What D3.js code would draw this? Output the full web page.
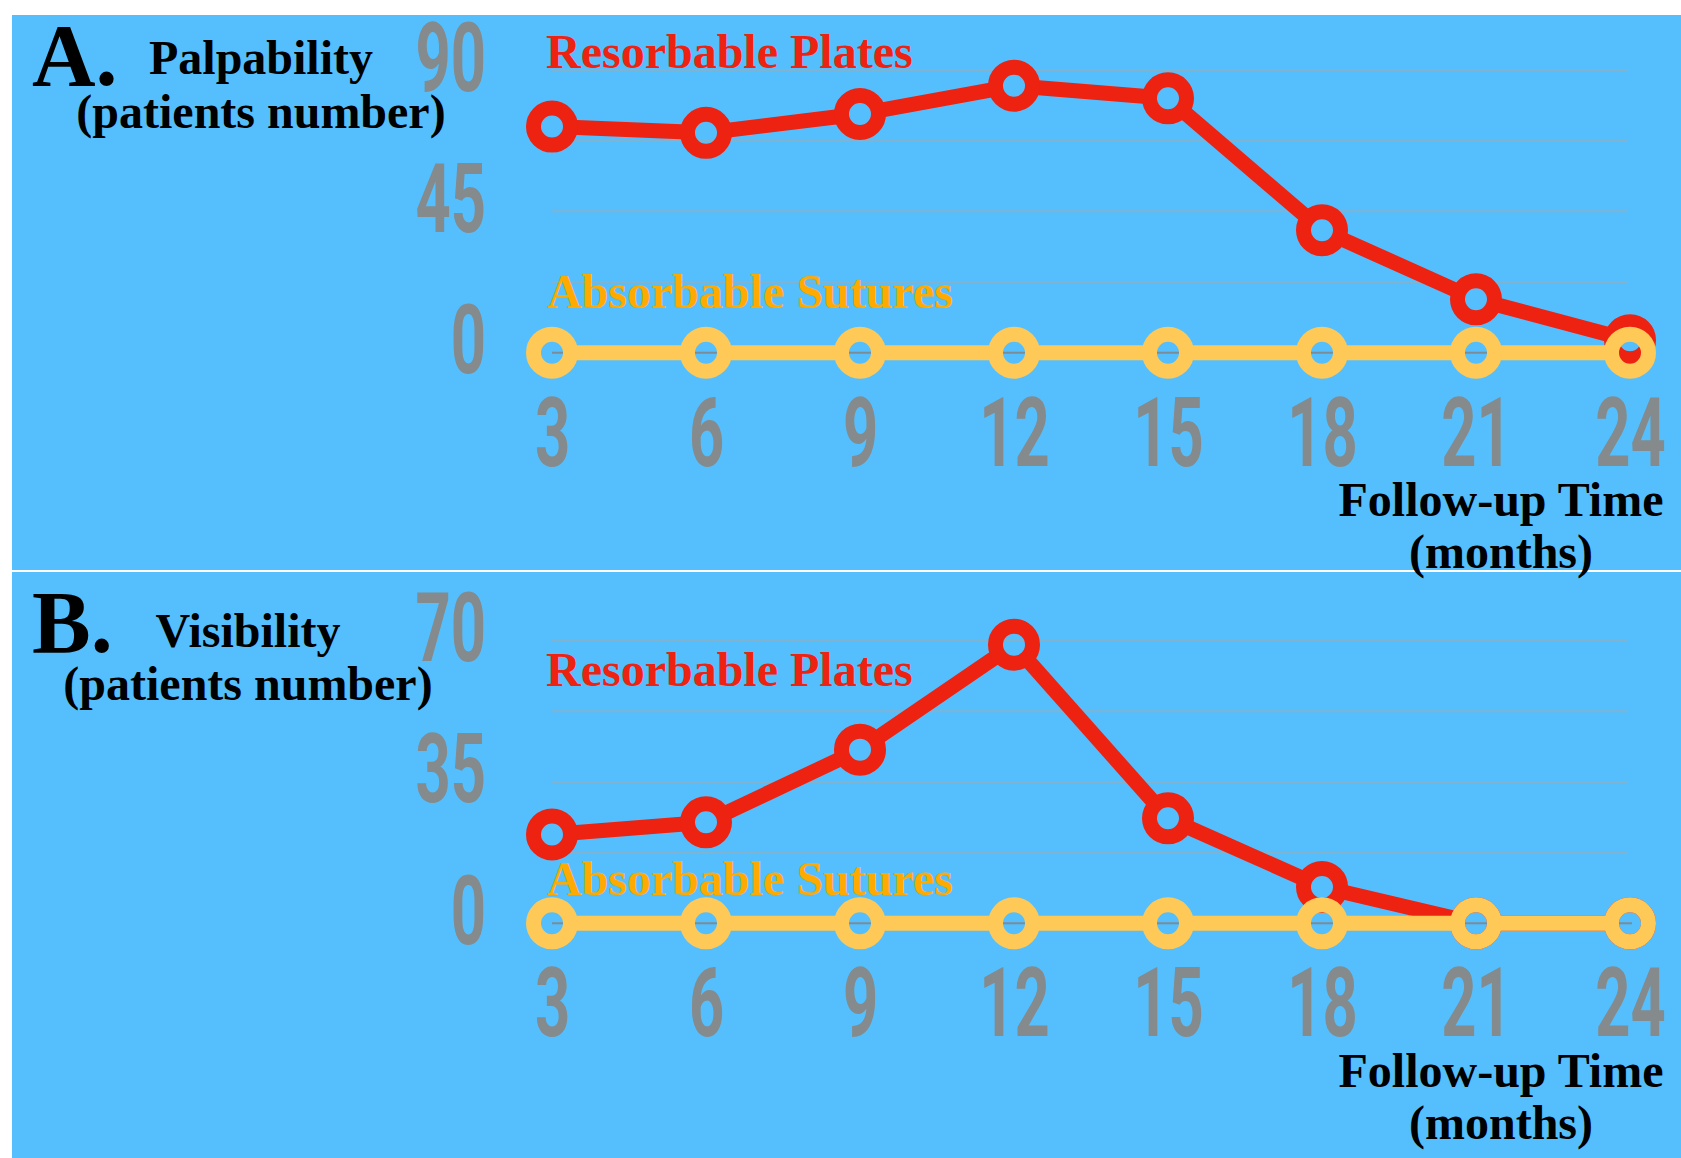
<!DOCTYPE html>
<html>
<head>
<meta charset="utf-8">
<script src="https://cdn.jsdelivr.net/npm/d3@7/dist/d3.min.js"></script>
<style>
  html, body { margin: 0; padding: 0; background: #ffffff; }
  svg { display: block; }
</style>
</head>
<body>
<svg id="chart" width="1681" height="1158"></svg>
<script>
// ---------------- data ----------------
const months = [3, 6, 9, 12, 15, 18, 21, 24];
const palpabilityPlates  = [72, 70, 76, 85, 81, 39, 17, 4];
const palpabilitySutures = [0, 0, 0, 0, 0, 0, 0, 0];
const visibilityPlates   = [22, 25, 43, 69, 26, 9, 0, 0];
const visibilitySutures  = [0, 0, 0, 0, 0, 0, 0, 0];
const palpabilityTicks = [0, 45, 90];
const visibilityTicks  = [0, 35, 70];
const palpabilityGrid  = [22.5, 45, 67.5, 90];
const visibilityGrid   = [17.5, 35, 52.5, 70];
const seriesNames = ["Resorbable Plates", "Absorbable Sutures"];
const panelLetters = ["A.", "B."];
const panelTitles = ["Palpability", "Visibility"];
const yTitle = "(patients number)";
const xTitle = ["Follow-up Time", "(months)"];

// ---------------- style ----------------
const BG = "#55bffd";
const RED = "#ee2211";
const YELLOW = "#fec957";
const ORANGE = "#ffaa00";
const GRAY = "#858a8c";
const GRID = "#7fb3d2";
const ZERO = "#7c8c96";
const SERIF = "'Liberation Serif', 'Times New Roman', serif";
const COND = "Roboto, 'DejaVu Sans', sans-serif";

const svg = d3.select("#chart");
const W = 1681, H = 1158;

// backgrounds
svg.append("rect").attr("x", 12).attr("y", 15).attr("width", W - 12).attr("height", H - 15).attr("fill", BG);
svg.append("rect").attr("x", 12).attr("y", 570).attr("width", W - 12).attr("height", 2).attr("fill", "#ffffff");

const x = d3.scaleLinear().domain([3, 24]).range([552, 1630]);

const panels = [
  { top: 0, max: 90, ticks: palpabilityTicks, grid: palpabilityGrid, plates: palpabilityPlates, sutures: palpabilitySutures,
    letter: panelLetters[0], title: panelTitles[0], titleX: 261,
    letterY: 85, titleY: 74, subY: 128, redLabelY: 68, yellowLabelY: 308 },
  { top: 570.6, max: 70, ticks: visibilityTicks, grid: visibilityGrid, plates: visibilityPlates, sutures: visibilitySutures,
    letter: panelLetters[1], title: panelTitles[1], titleX: 248,
    letterY: 652, titleY: 647, subY: 700, redLabelY: 686, yellowLabelY: 895 }
];

const R = 18.5, RING = 15, LW = 15;

function drawSeries(g, y, values, color) {
  const pts = months.map((m, i) => [x(m), y(values[i])]);
  const segs = [];
  for (let i = 0; i < pts.length - 1; i++) {
    const [x0, y0] = pts[i], [x1, y1] = pts[i + 1];
    const dx = x1 - x0, dy = y1 - y0, L = Math.hypot(dx, dy);
    const ux = dx / L, uy = dy / L;
    segs.push([[x0 + ux * R, y0 + uy * R], [x1 - ux * R, y1 - uy * R]]);
  }
  g.append("g").selectAll("line").data(segs).join("line")
    .attr("x1", d => d[0][0]).attr("y1", d => d[0][1])
    .attr("x2", d => d[1][0]).attr("y2", d => d[1][1])
    .attr("stroke", color).attr("stroke-width", LW);
  g.append("g").selectAll("circle").data(pts).join("circle")
    .attr("cx", d => d[0]).attr("cy", d => d[1]).attr("r", R)
    .attr("fill", "none").attr("stroke", color).attr("stroke-width", RING);
}

panels.forEach(p => {
  const g = svg.append("g");
  const y = d3.scaleLinear().domain([0, p.max]).range([352.7 + p.top, 70 + p.top]);

  // gridlines
  g.append("g").selectAll("line").data(p.grid).join("line")
    .attr("x1", x(3)).attr("x2", x(24) - 2)
    .attr("y1", d => y(d)).attr("y2", d => y(d))
    .attr("stroke", GRID).attr("stroke-width", 2);
  g.append("line").attr("x1", x(3)).attr("x2", x(24) + 2)
    .attr("y1", y(0)).attr("y2", y(0)).attr("stroke", ZERO).attr("stroke-width", 2);

  // y axis
  const ya = g.append("g").attr("transform", "translate(486,0)")
    .call(d3.axisLeft(y).tickValues(p.ticks).tickSize(0).tickFormat(d3.format("d")));
  ya.select(".domain").remove();
  ya.selectAll("text")
    .attr("x", 0).attr("dy", null).attr("y", 20)
    .attr("transform", "scale(0.64,1)")
    .attr("text-anchor", "end")
    .attr("fill", GRAY).attr("font-family", COND).attr("font-weight", 700).attr("font-size", 96);

  // x axis
  const xa = g.append("g").attr("transform", `translate(0,${y(0)})`)
    .call(d3.axisBottom(x).tickValues(months).tickSize(0).tickFormat(d3.format("d")));
  xa.select(".domain").remove();
  xa.selectAll("text")
    .attr("y", 113).attr("dy", null)
    .attr("transform", "scale(0.64,1)")
    .attr("text-anchor", "middle")
    .attr("fill", GRAY).attr("font-family", COND).attr("font-weight", 700).attr("font-size", 96);

  // series
  drawSeries(g, y, p.plates, RED);
  drawSeries(g, y, p.sutures, YELLOW);

  // series labels
  g.append("text").attr("x", 546).attr("y", p.redLabelY).text(seriesNames[0])
    .attr("fill", RED).attr("font-family", SERIF).attr("font-weight", 700).attr("font-size", 48);
  g.append("text").attr("x", 547).attr("y", p.yellowLabelY).text(seriesNames[1])
    .attr("fill", ORANGE).attr("font-family", SERIF).attr("font-weight", 700).attr("font-size", 48);

  // titles
  g.append("text").attr("x", 32).attr("y", p.letterY).text(p.letter)
    .attr("fill", "#000").attr("font-family", SERIF).attr("font-weight", 700).attr("font-size", 88);
  g.append("text").attr("x", p.titleX).attr("y", p.titleY).attr("text-anchor", "middle").text(p.title)
    .attr("fill", "#000").attr("font-family", SERIF).attr("font-weight", 700).attr("font-size", 48);
  g.append("text").attr("x", p.titleX).attr("y", p.subY).attr("text-anchor", "middle").text(yTitle)
    .attr("fill", "#000").attr("font-family", SERIF).attr("font-weight", 700).attr("font-size", 48);

  // x title
  g.append("text").attr("x", 1501).attr("y", 516 + p.top).attr("text-anchor", "middle").text(xTitle[0])
    .attr("fill", "#000").attr("font-family", SERIF).attr("font-weight", 700).attr("font-size", 48);
  g.append("text").attr("x", 1501).attr("y", 568 + p.top).attr("text-anchor", "middle").text(xTitle[1])
    .attr("fill", "#000").attr("font-family", SERIF).attr("font-weight", 700).attr("font-size", 48);
});
</script>
</body>
</html>
